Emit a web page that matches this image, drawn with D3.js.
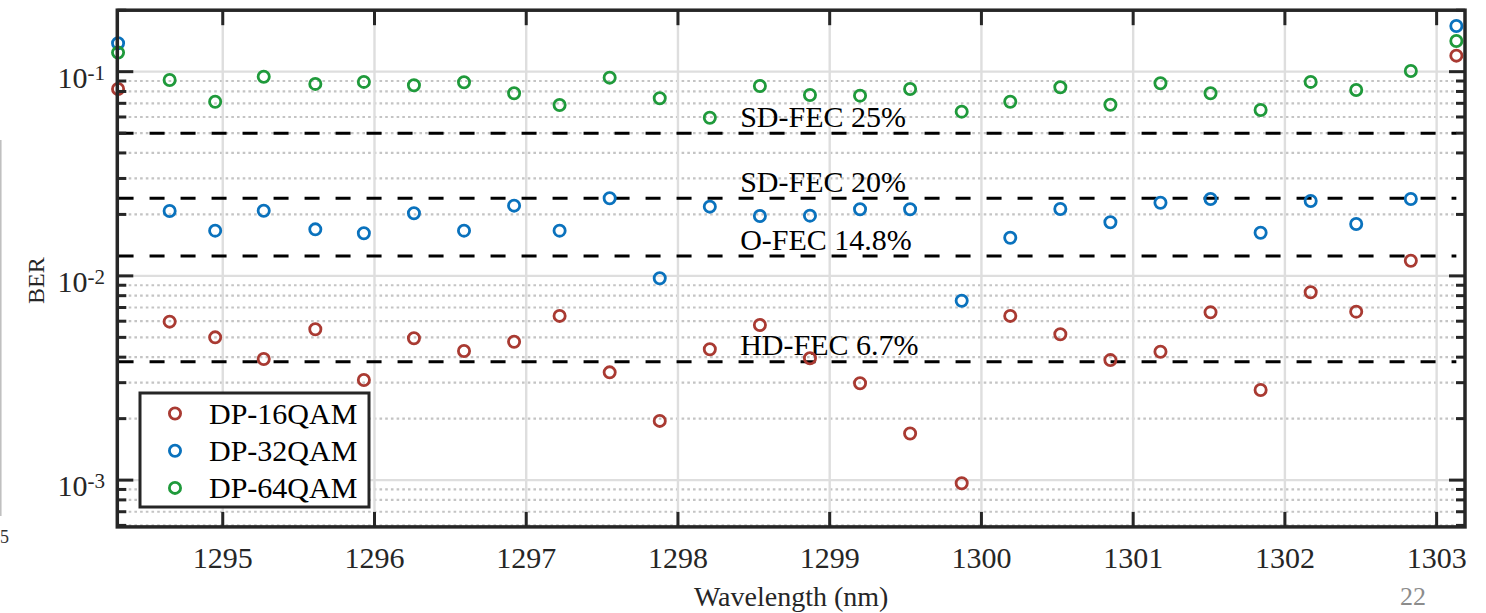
<!DOCTYPE html>
<html>
<head>
<meta charset="utf-8">
<script src="https://cdn.jsdelivr.net/npm/d3@7"></script>
<style>
  html, body { margin: 0; padding: 0; background: #fff; overflow: hidden; }
  svg { display: block; font-family: "Liberation Serif", "Times New Roman", serif; }
</style>
</head>
<body>
<svg id="chart" width="1486" height="613"></svg>
<script>
// Channel wavelengths (nm)
const wavelengths = [1294.31, 1294.65, 1294.95, 1295.27, 1295.61, 1295.93, 1296.26, 1296.59,
  1296.92, 1297.22, 1297.55, 1297.88, 1298.21, 1298.54, 1298.87, 1299.20, 1299.53, 1299.87,
  1300.19, 1300.52, 1300.85, 1301.18, 1301.51, 1301.84, 1302.17, 1302.47, 1302.83, 1303.13];

// Measured BER per channel
const ber16 = [0.0823, 0.00597, 0.0050, 0.00392, 0.00548, 0.00309, 0.00495, 0.00429, 0.00476,
  0.00637, 0.00337, 0.00195, 0.00437, 0.00575, 0.00395, 0.00298, 0.00169, 0.000965, 0.00637,
  0.00518, 0.00387, 0.00425, 0.00663, 0.00276, 0.00831, 0.00668, 0.01187, 0.1198];
const ber32 = [0.1377, 0.0208, 0.01665, 0.02086, 0.0169, 0.01616, 0.02026, 0.01665, 0.02208,
  0.01665, 0.02399, 0.00973, 0.02183, 0.01965, 0.01972, 0.0212, 0.0212, 0.00756, 0.01538,
  0.02127, 0.0183, 0.02283, 0.02379, 0.01627, 0.02326, 0.01796, 0.02379, 0.1675];
const ber64 = [0.124, 0.0911, 0.0713, 0.0945, 0.0871, 0.0891, 0.0858, 0.0887, 0.0784, 0.0687,
  0.0935, 0.0741, 0.0595, 0.0851, 0.0769, 0.0763, 0.0823, 0.0637, 0.0713, 0.0839, 0.0689,
  0.0877, 0.0784, 0.0649, 0.0891, 0.0814, 0.1008, 0.1413];

const seriesNames = ["DP-16QAM", "DP-32QAM", "DP-64QAM"];
const seriesColors = ["#a93a32", "#0a72bd", "#1f9a3b"];

// FEC thresholds
const fecLabels = ["SD-FEC 25%", "SD-FEC 20%", "O-FEC 14.8%", "HD-FEC 6.7%"];
const fecValues = [0.05, 0.024, 0.0125, 0.0038];

const xTicks = [1295, 1296, 1297, 1298, 1299, 1300, 1301, 1302, 1303];
const yMajorExps = [-3, -2, -1];

const svg = d3.select("#chart");
const L = 117.3, R = 1465, T = 10.2, B = 526.9;
const axisColor = "#262626";

const x = d3.scaleLinear().domain([1294.305, 1303.187]).range([L, R]);
const y = d3.scaleLog().domain([5.9e-4, 0.2]).range([B, T]);

// minor values 2..9 x decade inside domain
const minorVals = [];
[-4, -3, -2, -1].forEach(e => {
  for (let m = 2; m <= 9; m++) {
    const v = m * Math.pow(10, e);
    if (v >= y.domain()[0] && v <= y.domain()[1]) minorVals.push(v);
  }
});
const majorVals = yMajorExps.map(e => Math.pow(10, e));

const grid = svg.append("g");
// minor horizontal dotted grid
grid.selectAll("line.minor").data(minorVals).join("line")
  .attr("x1", L).attr("x2", R)
  .attr("y1", d => y(d)).attr("y2", d => y(d))
  .attr("stroke", "#c4c4c4").attr("stroke-width", 2.2)
  .attr("stroke-dasharray", "2.6,3.1");
// major horizontal grid
grid.selectAll("line.major").data(majorVals).join("line")
  .attr("x1", L).attr("x2", R)
  .attr("y1", d => y(d)).attr("y2", d => y(d))
  .attr("stroke", "#dedede").attr("stroke-width", 2.4);
// vertical grid
grid.selectAll("line.v").data(xTicks).join("line")
  .attr("x1", d => x(d)).attr("x2", d => x(d))
  .attr("y1", T).attr("y2", B)
  .attr("stroke", "#dedede").attr("stroke-width", 2.4);

// FEC threshold lines
const fec = svg.append("g");
fec.selectAll("line").data(fecValues).join("line")
  .attr("x1", x(wavelengths[0]) + 0.5).attr("x2", x(wavelengths[wavelengths.length - 1]))
  .attr("y1", d => y(d)).attr("y2", d => y(d))
  .attr("stroke", "#000").attr("stroke-width", 3)
  .attr("stroke-dasharray", "15,16");

// data markers
const allSeries = [ber16, ber32, ber64];
allSeries.forEach((vals, i) => {
  svg.append("g").selectAll("circle").data(vals).join("circle")
    .attr("cx", (d, j) => x(wavelengths[j]))
    .attr("cy", d => y(d))
    .attr("r", 5.6)
    .attr("fill", "none")
    .attr("stroke", seriesColors[i])
    .attr("stroke-width", 2.8);
});

// FEC labels
fec.selectAll("text").data(fecValues).join("text")
  .attr("x", x(1298.41))
  .attr("y", d => y(d) - 6.5)
  .attr("font-size", 30)
  .attr("fill", "#000")
  .text((d, i) => fecLabels[i]);

// axes box and ticks
const ax = svg.append("g").attr("stroke", axisColor);
// ticks on x (bottom and top, inward)
ax.selectAll("line.xb").data(xTicks).join("line")
  .attr("x1", d => x(d)).attr("x2", d => x(d))
  .attr("y1", B).attr("y2", B - 15).attr("stroke-width", 3);
ax.selectAll("line.xt").data(xTicks).join("line")
  .attr("x1", d => x(d)).attr("x2", d => x(d))
  .attr("y1", T).attr("y2", T + 15).attr("stroke-width", 3);
// y ticks left/right
[[L, 1], [R, -1]].forEach(([x0, dir]) => {
  ax.append("g").selectAll("line").data(majorVals).join("line")
    .attr("x1", x0).attr("x2", x0 + dir * 16)
    .attr("y1", d => y(d)).attr("y2", d => y(d)).attr("stroke-width", 3);
  ax.append("g").selectAll("line").data(minorVals).join("line")
    .attr("x1", x0).attr("x2", x0 + dir * 9)
    .attr("y1", d => y(d)).attr("y2", d => y(d)).attr("stroke-width", 3);
});
ax.append("rect")
  .attr("x", L).attr("y", T).attr("width", R - L).attr("height", B - T)
  .attr("fill", "none").attr("stroke-width", 3.5);

// x tick labels
svg.append("g").selectAll("text").data(xTicks).join("text")
  .attr("x", d => x(d)).attr("y", 568)
  .attr("text-anchor", "middle").attr("font-size", 30).attr("fill", axisColor)
  .text(d => d);

// y tick labels 10^n
const yl = svg.append("g").selectAll("text").data(yMajorExps).join("text")
  .attr("x", 105).attr("y", d => y(Math.pow(10, d)) + 16)
  .attr("text-anchor", "end").attr("font-size", 30).attr("fill", axisColor);
yl.append("tspan").text("10");
yl.append("tspan").attr("dy", -8).attr("font-size", 21).text(d => String(d));

// axis titles
svg.append("text")
  .attr("x", (L + R) / 2 + 0).attr("y", 606)
  .attr("text-anchor", "middle").attr("font-size", 28).attr("fill", axisColor)
  .text("Wavelength (nm)");
svg.append("text")
  .attr("transform", `translate(44, ${(T + B) / 2 + 12}) rotate(-90)`)
  .attr("text-anchor", "middle").attr("font-size", 24).attr("fill", axisColor)
  .text("BER");

// legend
const lg = svg.append("g");
lg.append("rect")
  .attr("x", 140).attr("y", 393).attr("width", 229).attr("height", 114)
  .attr("fill", "#fff").attr("stroke", axisColor).attr("stroke-width", 3);
seriesNames.forEach((name, i) => {
  const cy = 413.5 + i * 37.2;
  lg.append("circle").attr("cx", 175).attr("cy", cy).attr("r", 5.6)
    .attr("fill", "none").attr("stroke", seriesColors[i]).attr("stroke-width", 2.8);
  lg.append("text").attr("x", 209).attr("y", cy + 10.5)
    .attr("font-size", 30).attr("fill", "#000").text(name);
});

// page furniture around the figure
svg.append("line").attr("x1", 0.8).attr("x2", 0.8).attr("y1", 140).attr("y2", 516)
  .attr("stroke", "#bdbdbd").attr("stroke-width", 1.5);
svg.append("text").attr("x", 0).attr("y", 543).attr("font-size", 18).attr("fill", "#333").text("5");
svg.append("text").attr("x", 1400).attr("y", 605).attr("font-size", 26).attr("fill", "#8c8c8c").text("22");
</script>
</body>
</html>
